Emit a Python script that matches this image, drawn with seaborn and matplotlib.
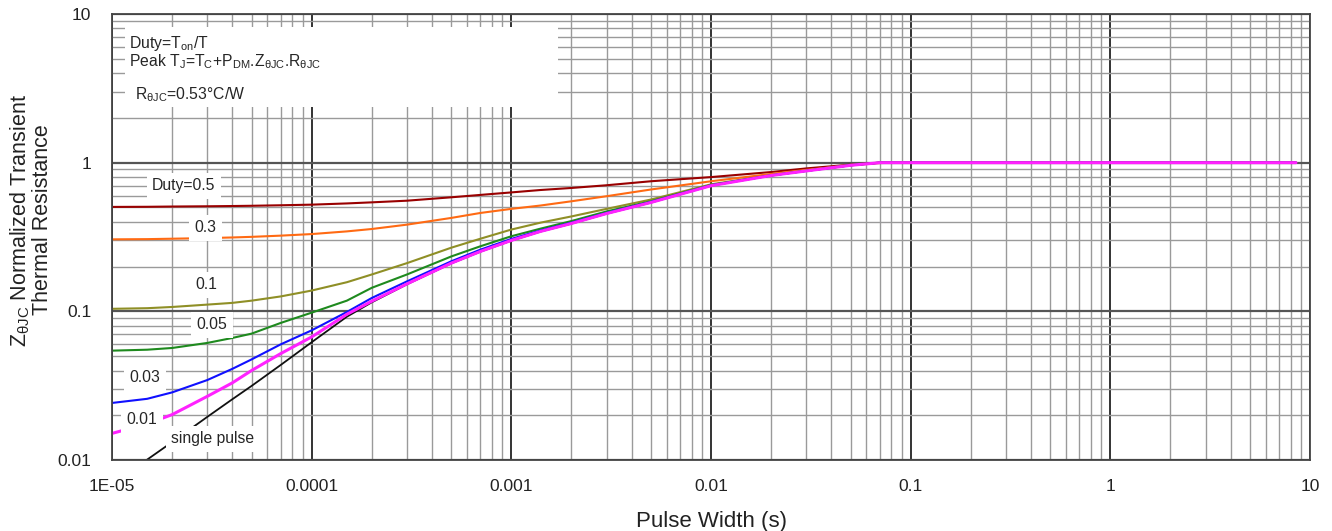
import matplotlib
matplotlib.use("Agg")
import pandas as pd
import seaborn as sns
import matplotlib.pyplot as plt
from matplotlib.patches import Rectangle
from matplotlib.ticker import FixedLocator, NullFormatter, LogLocator


# pulse width (s) shared by the duty curves
pulse_width = [1e-5, 1.5e-5, 2e-5, 3e-5, 4e-5, 5e-5, 7e-5, 1e-4, 1.5e-4, 2e-4,
               3e-4, 5e-4, 7e-4, 1e-3, 1.4e-3, 2e-3, 3e-3, 5e-3, 1e-2, 2e-2,
               3e-2, 5e-2, 7e-2, 0.1, 1, 8.5]

z_duty_05 = [0.504, 0.505, 0.507, 0.509, 0.511, 0.513, 0.517, 0.522, 0.532, 0.541,
             0.555, 0.585, 0.607, 0.631, 0.655, 0.676, 0.705, 0.75, 0.80, 0.865,
             0.915, 0.97, 1.0, 1.0, 1.0, 1.0]
z_duty_03 = [0.305, 0.306, 0.308, 0.311, 0.314, 0.317, 0.323, 0.331, 0.345, 0.358,
             0.383, 0.425, 0.459, 0.489, 0.515, 0.55, 0.595, 0.66, 0.75, 0.84,
             0.895, 0.96, 0.995, 1.0, 1.0, 1.0]
z_duty_01 = [0.104, 0.105, 0.107, 0.111, 0.114, 0.118, 0.126, 0.138, 0.157, 0.177,
             0.211, 0.268, 0.308, 0.355, 0.395, 0.435, 0.489, 0.565, 0.715, 0.825,
             0.885, 0.965, 1.0, 1.0, 1.0, 1.0]
z_duty_005 = [0.0544, 0.0552, 0.0567, 0.0613, 0.0662, 0.0708, 0.0836, 0.098, 0.118, 0.144,
              0.177, 0.234, 0.274, 0.32, 0.36, 0.405, 0.47, 0.55, 0.708, 0.822,
              0.882, 0.962, 1.0, 1.0, 1.0, 1.0]
z_duty_003 = [0.0242, 0.0258, 0.0285, 0.0345, 0.041, 0.0475, 0.060, 0.0745, 0.099, 0.123,
              0.159, 0.217, 0.26, 0.307, 0.35, 0.395, 0.46, 0.545, 0.705, 0.82,
              0.88, 0.96, 1.0, 1.0, 1.0, 1.0]
z_duty_001 = [0.0151, 0.0175, 0.0202, 0.0268, 0.033, 0.040, 0.052, 0.0673, 0.0955, 0.117,
              0.153, 0.211, 0.253, 0.30, 0.345, 0.39, 0.455, 0.54, 0.70, 0.82,
              0.88, 0.96, 1.0, 1.0, 1.0, 1.0]

# single pulse starts at the bottom edge
single_width = [1.49e-5, 2e-5, 3e-5, 4e-5, 5e-5, 7e-5, 1e-4, 1.5e-4, 2e-4,
                3e-4, 5e-4, 7e-4, 1e-3, 1.4e-3, 2e-3, 3e-3, 5e-3, 1e-2, 2e-2,
                3e-2, 5e-2, 7e-2, 0.1, 1, 8.5]
z_single = [0.01, 0.0132, 0.0195, 0.0256, 0.0315, 0.0436, 0.062, 0.092, 0.115,
            0.152, 0.21, 0.252, 0.299, 0.344, 0.389, 0.454, 0.539, 0.70, 0.82,
            0.88, 0.96, 1.0, 1.0, 1.0, 1.0]

x_ticks = [1e-5, 1e-4, 1e-3, 1e-2, 0.1, 1, 10]
x_tick_labels = ["1E-05", "0.0001", "0.001", "0.01", "0.1", "1", "10"]
y_ticks = [0.01, 0.1, 1, 10]
y_tick_labels = ["0.01", "0.1", "1", "10"]

# (label, x, y) of the curve tags
curve_tags = [("Duty=0.5", 2.29e-5, 0.70), ("0.3", 2.95e-5, 0.366),
              ("0.1", 2.95e-5, 0.151), ("0.05", 3.16e-5, 0.0814),
              ("0.03", 1.46e-5, 0.0358), ("0.01", 1.41e-5, 0.0187),
              ("single pulse", 3.2e-5, 0.0139)]

sns.set_style("white")
plt.rcParams["font.family"] = ["Liberation Sans", "DejaVu Sans"]
plt.rcParams["mathtext.default"] = "regular"

fig = plt.figure(figsize=(13.32, 5.31), dpi=100)
ax = fig.add_axes([0.0841, 0.1337, 0.8994, 0.8399])

series = [
    (pulse_width, z_duty_05, "#990000", 1.5),
    (pulse_width, z_duty_03, "#ff6a13", 1.5),
    (pulse_width, z_duty_01, "#8f8f26", 1.5),
    (pulse_width, z_duty_005, "#1e8a1e", 1.5),
    (pulse_width, z_duty_003, "#1010ff", 1.5),
    (single_width, z_single, "#111111", 1.3),
    (pulse_width, z_duty_001, "#ff22ff", 2.2),
]
for xs, ys, color, lw in series:
    df = pd.DataFrame({"t": xs, "z": ys})
    sns.lineplot(data=df, x="t", y="z", ax=ax, color=color, linewidth=lw,
                 zorder=2, sort=False)

ax.set_xscale("log")
ax.set_yscale("log")
ax.set_xlim(1e-5, 10)
ax.set_ylim(0.01, 10)

ax.xaxis.set_major_locator(FixedLocator(x_ticks))
ax.set_xticklabels(x_tick_labels)
ax.yaxis.set_major_locator(FixedLocator(y_ticks))
ax.set_yticklabels(y_tick_labels)
ax.xaxis.set_minor_locator(LogLocator(base=10, subs=range(2, 10)))
ax.yaxis.set_minor_locator(LogLocator(base=10, subs=range(2, 10)))
ax.xaxis.set_minor_formatter(NullFormatter())
ax.yaxis.set_minor_formatter(NullFormatter())
ax.tick_params(which="both", length=0, labelsize=12.5, colors="#222222")
ax.tick_params(axis="x", pad=14)
ax.tick_params(axis="y", pad=15)

ax.set_axisbelow(True)
ax.grid(which="minor", color="#9a9a9a", linewidth=1.0)
ax.grid(which="major", axis="x", color="#111111", linewidth=1.2)
ax.grid(which="major", axis="y", color="#555555", linewidth=1.6)
for sp in ax.spines.values():
    sp.set_color("#444444")
    sp.set_linewidth(1.3)

# white note box top left
ax.add_patch(Rectangle((0.0109, 0.7915), 0.361, 0.18, transform=ax.transAxes,
                       facecolor="white", edgecolor="none", zorder=1))
ax.text(0.014, 0.935, "Duty=T$_{on}$/T", transform=ax.transAxes,
        fontsize=11.3, va="center", zorder=3)
ax.text(0.014, 0.893, r"Peak T$_J$=T$_C$+P$_{DM}$.Z$_{θJC}$.R$_{θJC}$",
        transform=ax.transAxes, fontsize=11.3, va="center", zorder=3)
ax.text(0.019, 0.82, "R$_{θJC}$=0.53°C/W", transform=ax.transAxes,
        fontsize=11.3, va="center", zorder=3)

for label, tx, ty in curve_tags:
    ax.text(tx, ty, label, fontsize=11.3, ha="center", va="center", zorder=3,
            bbox=dict(facecolor="white", edgecolor="none", pad=4))

ax.set_xlabel("Pulse Width (s)", fontsize=16, color="#222222", labelpad=12)
ax.set_ylabel("Z$_{θJC}$ Normalized Transient\nThermal Resistance",
              fontsize=15.5, color="#222222", linespacing=1.05)
ax.yaxis.set_label_coords(-0.049, 0.538)

fig.savefig("out.png", dpi=100)
